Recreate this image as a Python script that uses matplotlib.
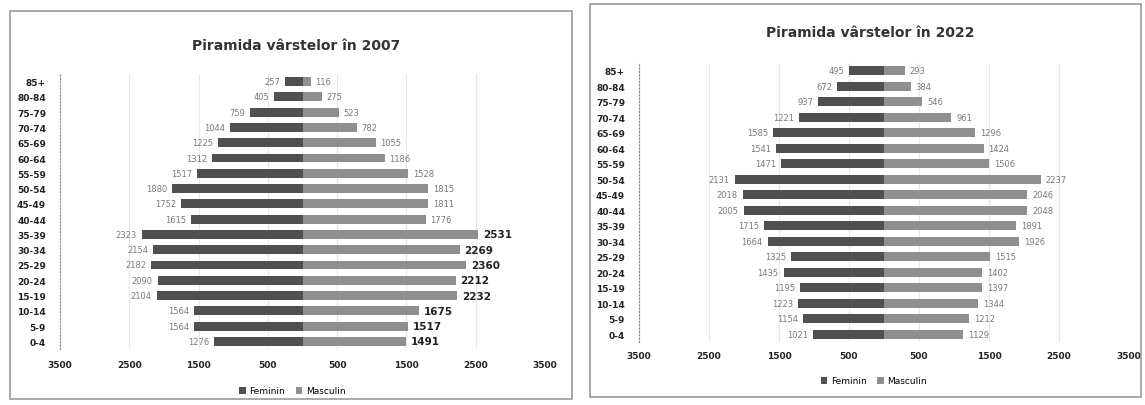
import matplotlib
matplotlib.use("Agg")
import matplotlib.pyplot as plt
from matplotlib.patches import Rectangle
import numpy as np

age_groups = ["0-4", "5-9", "10-14", "15-19", "20-24", "25-29", "30-34", "35-39",
              "40-44", "45-49", "50-54", "55-59", "60-64", "65-69", "70-74",
              "75-79", "80-84", "85+"]

feminin_2007 = [1276, 1564, 1564, 2104, 2090, 2182, 2154, 2323, 1615, 1752,
                1880, 1517, 1312, 1225, 1044, 759, 405, 257]
masculin_2007 = [1491, 1517, 1675, 2232, 2212, 2360, 2269, 2531, 1776, 1811,
                 1815, 1528, 1186, 1055, 782, 523, 275, 116]

feminin_2022 = [1021, 1154, 1223, 1195, 1435, 1325, 1664, 1715, 2005, 2018,
                2131, 1471, 1541, 1585, 1221, 937, 672, 495]
masculin_2022 = [1129, 1212, 1344, 1397, 1402, 1515, 1926, 1891, 2048, 2046,
                 2237, 1506, 1424, 1296, 961, 546, 384, 293]

tick_values = [-3500, -2500, -1500, -500, 500, 1500, 2500, 3500]
tick_labels = ["3500", "2500", "1500", "500", "500", "1500", "2500", "3500"]

W, H = 1145, 406
fig = plt.figure(figsize=(W / 100, H / 100), dpi=100)
fig.patch.set_facecolor("white")

col_f = "#505050"
col_m = "#8f8f8f"


def fx(px):
    return px / W


def fy(py):
    return 1 - py / H


def panel(box, ax_rect, title, title_y, fem, mas, tick_y, legend_y, bold_from=None):
    x0, y0, x1, y1 = box
    fig.patches.append(Rectangle((fx(x0), fy(y1)), fx(x1 - x0), (y1 - y0) / H,
                                 transform=fig.transFigure, fill=False,
                                 edgecolor="#9a9a9a", linewidth=1.2))
    l, t, r, b = ax_rect
    ax = fig.add_axes([fx(l), fy(b), fx(r - l), (b - t) / H])
    y = np.arange(len(age_groups))
    fem_arr = np.array(fem)
    mas_arr = np.array(mas)
    hb = ax.barh(y, -fem_arr, height=0.58, color=col_f, label="Feminin", zorder=3)
    hm = ax.barh(y, mas_arr, height=0.58, color=col_m, label="Masculin", zorder=3)
    for i in range(len(y)):
        ax.text(-fem_arr[i] - 70, y[i], str(fem[i]), ha="right", va="center",
                fontsize=6, color="#7a7a7a")
        bold = bold_from is not None and i <= bold_from
        ax.text(mas_arr[i] + 70, y[i], str(mas[i]), ha="left", va="center",
                fontsize=7.5 if bold else 6,
                fontweight="bold" if bold else "normal",
                color="#222222" if bold else "#7a7a7a")
    ax.set_xlim(-3500, 3500)
    ax.set_ylim(-0.5, len(age_groups) - 0.5)
    ax.set_xticks(tick_values)
    ax.set_xticklabels(tick_labels)
    ax.set_yticks(y)
    ax.set_yticklabels(age_groups)
    for s in ["top", "right", "bottom"]:
        ax.spines[s].set_visible(False)
    ax.spines["left"].set_color("#8a8a8a")
    ax.spines["left"].set_linestyle((0, (1, 2)))
    ax.tick_params(axis="both", length=0, labelsize=6.5, colors="#222222")
    for lab in ax.get_xticklabels() + ax.get_yticklabels():
        lab.set_fontweight("bold")
    ax.tick_params(axis="y", pad=10)
    # position x tick labels
    pad_px = tick_y - b
    ax.tick_params(axis="x", pad=pad_px * 72 / 100 - 4)
    ax.grid(axis="x", color="#e8e8e8", linewidth=0.8, zorder=0)
    ax.set_axisbelow(True)
    fig.text(fx((x0 + x1) / 2 + 5), fy(title_y), title, ha="center", va="center",
             fontsize=10, fontweight="bold", color="#333333")
    fig.legend(handles=[hb, hm], labels=["Feminin", "Masculin"],
               loc="center", bbox_to_anchor=(fx((l + r) / 2 - 10), fy(legend_y)),
               ncol=2, frameon=False, fontsize=6.5, handlelength=0.7,
               handleheight=0.7, columnspacing=1.2, handletextpad=0.4)
    return ax


panel((10, 12, 572, 400), (60, 75, 545, 350), "Piramida vârstelor în 2007", 46,
      feminin_2007, masculin_2007, tick_y=367, legend_y=392, bold_from=7)
panel((590, 5, 1141, 398), (639, 64, 1129, 343), "Piramida vârstelor în 2022", 33,
      feminin_2022, masculin_2022, tick_y=358, legend_y=382)

fig.savefig("out.png", dpi=100, facecolor="white")
